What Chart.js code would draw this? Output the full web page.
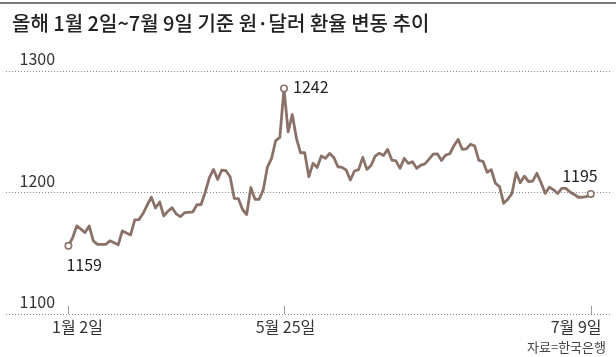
<!DOCTYPE html>
<html>
<head>
<meta charset="utf-8">
<script src="https://cdn.jsdelivr.net/npm/chart.js@4.4.0/dist/chart.umd.min.js"></script>
<style>
html,body{margin:0;padding:0;background:#fff;}
#wrap{width:616px;height:357px;position:relative;}
</style>
</head>
<body>
<div id="wrap"><canvas id="c" width="616" height="357"></canvas></div>
<script>
// ---- data ----
const titleText = '올해 1월 2일~7월 9일 기준 원·달러 환율 변동 추이';
const sourceText = '자료=한국은행';
const rates = [
  1156.1,1162.6,1172.5,1169.9,1167.0,1172.5,1160.2,1157.3,1157.3,1157.3,
  1160.2,1158.6,1156.9,1168.4,1166.7,1165.1,1177.4,1177.7,1182.7,1189.7,
  1196.1,1187.3,1192.2,1180.7,1184.6,1187.5,1182.4,1180.1,1183.4,1183.7,
  1184.0,1189.9,1190.0,1200.2,1212.2,1219.0,1210.8,1218.5,1217.9,1213.0,
  1195.2,1194.9,1186.0,1181.9,1204.1,1194.4,1194.4,1202.2,1220.9,1228.0,
  1242.7,1245.3,1285.6,1249.9,1264.2,1244.5,1232.7,1232.7,1213.0,1224.0,
  1220.5,1230.0,1228.1,1232.2,1228.9,1221.2,1220.7,1218.5,1210.3,1217.7,
  1218.8,1228.9,1219.0,1222.2,1230.0,1232.4,1230.4,1235.5,1226.7,1226.0,
  1219.9,1228.1,1224.0,1225.3,1219.9,1222.6,1223.6,1227.5,1231.6,1231.8,
  1226.4,1230.8,1231.9,1238.5,1243.7,1235.6,1235.9,1239.7,1238.3,1226.4,
  1225.7,1216.7,1218.7,1207.6,1204.8,1191.1,1194.4,1199.3,1216.3,1208.0,
  1213.5,1208.9,1209.4,1215.8,1208.2,1199.3,1204.3,1202.3,1199.1,1203.4,
  1203.4,1200.4,1198.4,1196.1,1196.1,1196.7,1198.8
];
const yTicks = [1100, 1200, 1300];
const dateTickIndex = [0, 52, 126];
const dateTickLabels = ['1월 2일', '5월 25일', '7월 9일'];
const markIndex = [0, 52, 126];
const markLabels = ['1159', '1242', '1195'];

// ---- styling ----
const FONT = '"Noto Sans CJK KR", "Noto Sans", sans-serif';
const LINE_COLOR = '#8b7269';

const decor = {
  id: 'decor',
  beforeDraw(chart) {
    const ctx = chart.ctx;
    ctx.save();
    ctx.fillStyle = '#fff';
    ctx.fillRect(0, 0, chart.width, chart.height);
    ctx.restore();
  },
  afterDraw(chart, args, o) {
    const ctx = chart.ctx;
    const xs = chart.scales.x, ys = chart.scales.y;
    const area = chart.chartArea;
    ctx.save();
    // top rule
    ctx.fillStyle = '#7a7a7a';
    ctx.fillRect(0, 2, chart.width, 2);
    // title
    ctx.fillStyle = '#222';
    ctx.font = '500 20px ' + FONT;
    ctx.textBaseline = 'middle';
    ctx.textAlign = 'left';
    ctx.fillText(titleText, 12, 23);
    // date ticks + labels
    ctx.strokeStyle = '#999';
    ctx.lineWidth = 1;
    ctx.font = '16px ' + FONT;
    ctx.fillStyle = '#333';
    dateTickIndex.forEach((idx, k) => {
      const px = Math.round(xs.getPixelForValue(idx)) + 0.5;
      ctx.beginPath();
      ctx.moveTo(px, area.bottom - 8);
      ctx.lineTo(px, area.bottom);
      ctx.stroke();
      ctx.textAlign = o.dateAlign[k];
      ctx.fillText(dateTickLabels[k], px + o.dateShift[k], area.bottom + 13);
    });
    // point annotations
    ctx.fillStyle = '#222';
    ctx.font = '16px ' + FONT;
    markIndex.forEach((idx, k) => {
      const px = xs.getPixelForValue(idx);
      const py = ys.getPixelForValue(rates[idx]);
      ctx.textAlign = o.markAlign[k];
      ctx.fillText(markLabels[k], px + o.markDx[k], py + o.markDy[k]);
    });
    // source
    ctx.fillStyle = '#444';
    ctx.font = '13px ' + FONT;
    ctx.textAlign = 'right';
    ctx.fillText(sourceText, 606, 347);
    ctx.restore();
  }
};

new Chart(document.getElementById('c'), {
  type: 'line',
  data: {
    datasets: [{
      data: rates.map((v, i) => ({ x: i, y: v })),
      borderColor: LINE_COLOR,
      borderWidth: 2.8,
      tension: 0,
      borderJoinStyle: 'round',
      pointRadius: ctx => markIndex.includes(ctx.dataIndex) ? 3.2 : 0,
      pointBackgroundColor: '#fff',
      pointBorderColor: LINE_COLOR,
      pointBorderWidth: 1.6,
      clip: false
    }]
  },
  options: {
    responsive: false,
    animation: false,
    devicePixelRatio: 1,
    layout: { padding: { top: 71, bottom: 43, left: 0, right: 0 } },
    plugins: {
      legend: { display: false },
      tooltip: { enabled: false },
      decor: {
        dateAlign: ['center', 'center', 'right'],
        dateShift: [9, 1, 10],
        markAlign: ['left', 'left', 'right'],
        markDx: [-2, 9, 7],
        markDy: [19, -2, -18.5]
      }
    },
    scales: {
      x: { type: 'linear', min: -15.16, max: 130.74, display: false },
      y: {
        min: 1100, max: 1300,
        afterBuildTicks: s => { s.ticks = yTicks.map(v => ({ value: v })); },
        afterFit: s => { s.width = 0; },
        grid: { color: '#8a8a8a', lineWidth: 1, drawTicks: false },
        border: { display: false, dash: [1, 2] },
        ticks: {
          mirror: true, padding: 14, labelOffset: -12,
          color: '#333', font: { family: FONT, size: 16 },
          callback: v => String(v)
        }
      }
    }
  },
  plugins: [decor]
});
</script>
</body>
</html>
